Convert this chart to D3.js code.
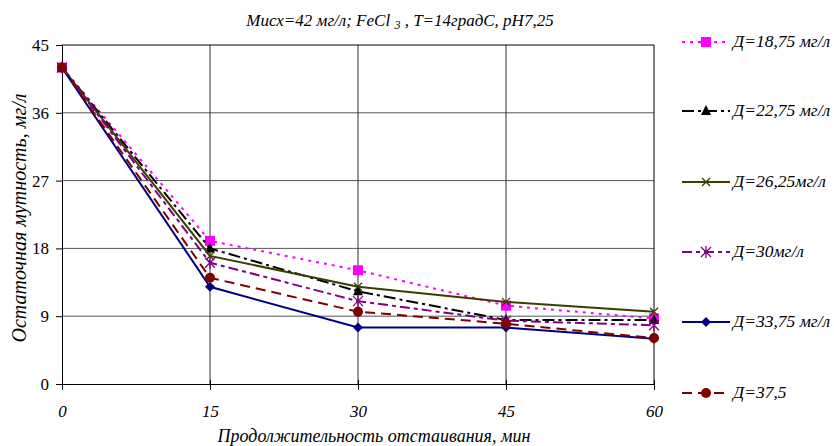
<!DOCTYPE html>
<html><head><meta charset="utf-8">
<script src="https://cdn.jsdelivr.net/npm/d3@7"></script>
<style>body{margin:0;background:#fff}svg{display:block}</style>
</head><body><svg id="c" width="834" height="446"></svg>
<script>
const times = [0, 15, 30, 45, 60];
const yTicks = [0, 9, 18, 27, 36, 45];
const seriesNames = ["Д=18,75 мг/л", "Д=22,75 мг/л", "Д=26,25мг/л", "Д=30мг/л", "Д=33,75 мг/л", "Д=37,5"];
const s1875 = [42, 19.0, 15.1, 10.4, 8.7];
const s2275 = [42, 18.0, 12.3, 8.5, 8.5];
const s2625 = [42, 17.0, 12.9, 10.9, 9.6];
const s30 = [42, 16.1, 11.0, 8.4, 7.8];
const s3375 = [42, 12.9, 7.5, 7.5, 6.0];
const s375 = [42, 14.1, 9.6, 8.0, 6.1];
const seriesValues = [s1875, s2275, s2625, s30, s3375, s375];
const colors = ["#FF00FF", "#000000", "#3d3d00", "#800080", "#000080", "#800000"];
const dashes = ["3,5", "12,4,3,4", null, "10,4,4,4", null, "10,6"];
const markers = ["square", "triangle", "x", "star", "diamond", "circle"];
const FONT = "Liberation Serif";

const svg = d3.select("#c");
const x = d3.scaleLinear().domain([0, 60]).range([62, 654]);
const y = d3.scaleLinear().domain([0, 45]).range([384, 45]);

// grid
svg.append("g").selectAll("line").data(yTicks.filter(d => d > 0 && d < 45)).join("line")
  .attr("x1", x(0)).attr("x2", x(60)).attr("y1", d => y(d)).attr("y2", d => y(d))
  .attr("stroke", "#555").attr("stroke-width", 1);
svg.append("g").selectAll("line").data(times.filter(d => d > 0 && d < 60)).join("line")
  .attr("y1", y(0)).attr("y2", y(45)).attr("x1", d => x(d)).attr("x2", d => x(d))
  .attr("stroke", "#333").attr("stroke-width", 1);
svg.append("line").attr("x1", x(0)).attr("x2", x(60)).attr("y1", y(45)).attr("y2", y(45)).attr("stroke", "#000");
svg.append("line").attr("x1", x(60)).attr("x2", x(60)).attr("y1", y(45)).attr("y2", y(0)).attr("stroke", "#000");

// axes
const yAx = svg.append("g").attr("transform", `translate(${x(0)},0)`)
  .call(d3.axisLeft(y).tickValues(yTicks).tickSize(6).tickPadding(7).tickFormat(d3.format("d")));
yAx.selectAll("text").attr("font-family", FONT).attr("font-size", 17).attr("fill", "#000");
yAx.select(".domain").attr("stroke", "#000");
const xAx = svg.append("g").attr("transform", `translate(0,${y(0)})`)
  .call(d3.axisBottom(x).tickValues(times).tickSize(6).tickPadding(15).tickFormat(d3.format("d")));
xAx.selectAll("text").attr("font-family", FONT).attr("font-size", 17).attr("font-style", "italic").attr("fill", "#000");
xAx.select(".domain").attr("stroke", "#000");
xAx.selectAll(".tick line").attr("y1", -4);

// titles
const t = svg.append("text").attr("x", 400).attr("y", 26).attr("text-anchor", "middle")
  .attr("font-family", FONT).attr("font-size", 17).attr("font-style", "italic");
t.append("tspan").text("Мисх=42 мг/л; FeCl ");
t.append("tspan").attr("font-size", 12).attr("dy", 3).text("3");
t.append("tspan").attr("dy", -3).text(" , T=14градС, pH7,25");
svg.append("text").attr("x", 374).attr("y", 442).attr("text-anchor", "middle")
  .attr("font-family", FONT).attr("font-size", 18).attr("font-style", "italic").text("Продолжительность отстаивания, мин");
svg.append("text").attr("transform", "translate(26,218) rotate(-90)").attr("text-anchor", "middle")
  .attr("font-family", FONT).attr("font-size", 20).attr("font-style", "italic").text("Остаточная мутность, мг/л");

function drawMarker(g, type, color, cx, cy) {
  if (type === "square") g.append("rect").attr("x", cx - 5).attr("y", cy - 5).attr("width", 10).attr("height", 10).attr("fill", color);
  else if (type === "triangle") g.append("path").attr("d", `M${cx},${cy-6}L${cx+5},${cy+4}L${cx-5},${cy+4}Z`).attr("fill", color);
  else if (type === "x") g.append("path").attr("d", `M${cx-4},${cy-4}L${cx+4},${cy+4}M${cx-4},${cy+4}L${cx+4},${cy-4}`).attr("stroke", color).attr("stroke-width", 1.3);
  else if (type === "star") g.append("path").attr("d", `M${cx-5},${cy-5}L${cx+5},${cy+5}M${cx-5},${cy+5}L${cx+5},${cy-5}M${cx},${cy-6}L${cx},${cy+6}`).attr("stroke", color).attr("stroke-width", 1.3);
  else if (type === "diamond") g.append("path").attr("d", `M${cx},${cy-5}L${cx+5},${cy}L${cx},${cy+5}L${cx-5},${cy}Z`).attr("fill", color);
  else if (type === "circle") g.append("circle").attr("cx", cx).attr("cy", cy).attr("r", 5).attr("fill", color);
}

const line = d3.line().x((d, i) => x(times[i])).y(d => y(d));
seriesValues.forEach((vals, k) => {
  const g = svg.append("g");
  g.append("path").datum(vals).attr("d", line).attr("fill", "none")
    .attr("stroke", colors[k]).attr("stroke-width", 2).attr("stroke-dasharray", dashes[k]);
  vals.forEach((v, i) => drawMarker(g, markers[k], colors[k], x(times[i]), y(v)));
});

// legend
const legY = [42, 111, 182, 252, 322, 393];
seriesNames.forEach((name, k) => {
  const g = svg.append("g");
  g.append("line").attr("x1", 682).attr("x2", 730).attr("y1", legY[k]).attr("y2", legY[k])
    .attr("stroke", colors[k]).attr("stroke-width", 2).attr("stroke-dasharray", dashes[k]);
  drawMarker(g, markers[k], colors[k], 706, legY[k]);
  g.append("text").attr("x", 733).attr("y", legY[k] + 5).attr("font-family", FONT).attr("font-size", 17.5).attr("font-style", "italic").text(name);
});
</script></body></html>
